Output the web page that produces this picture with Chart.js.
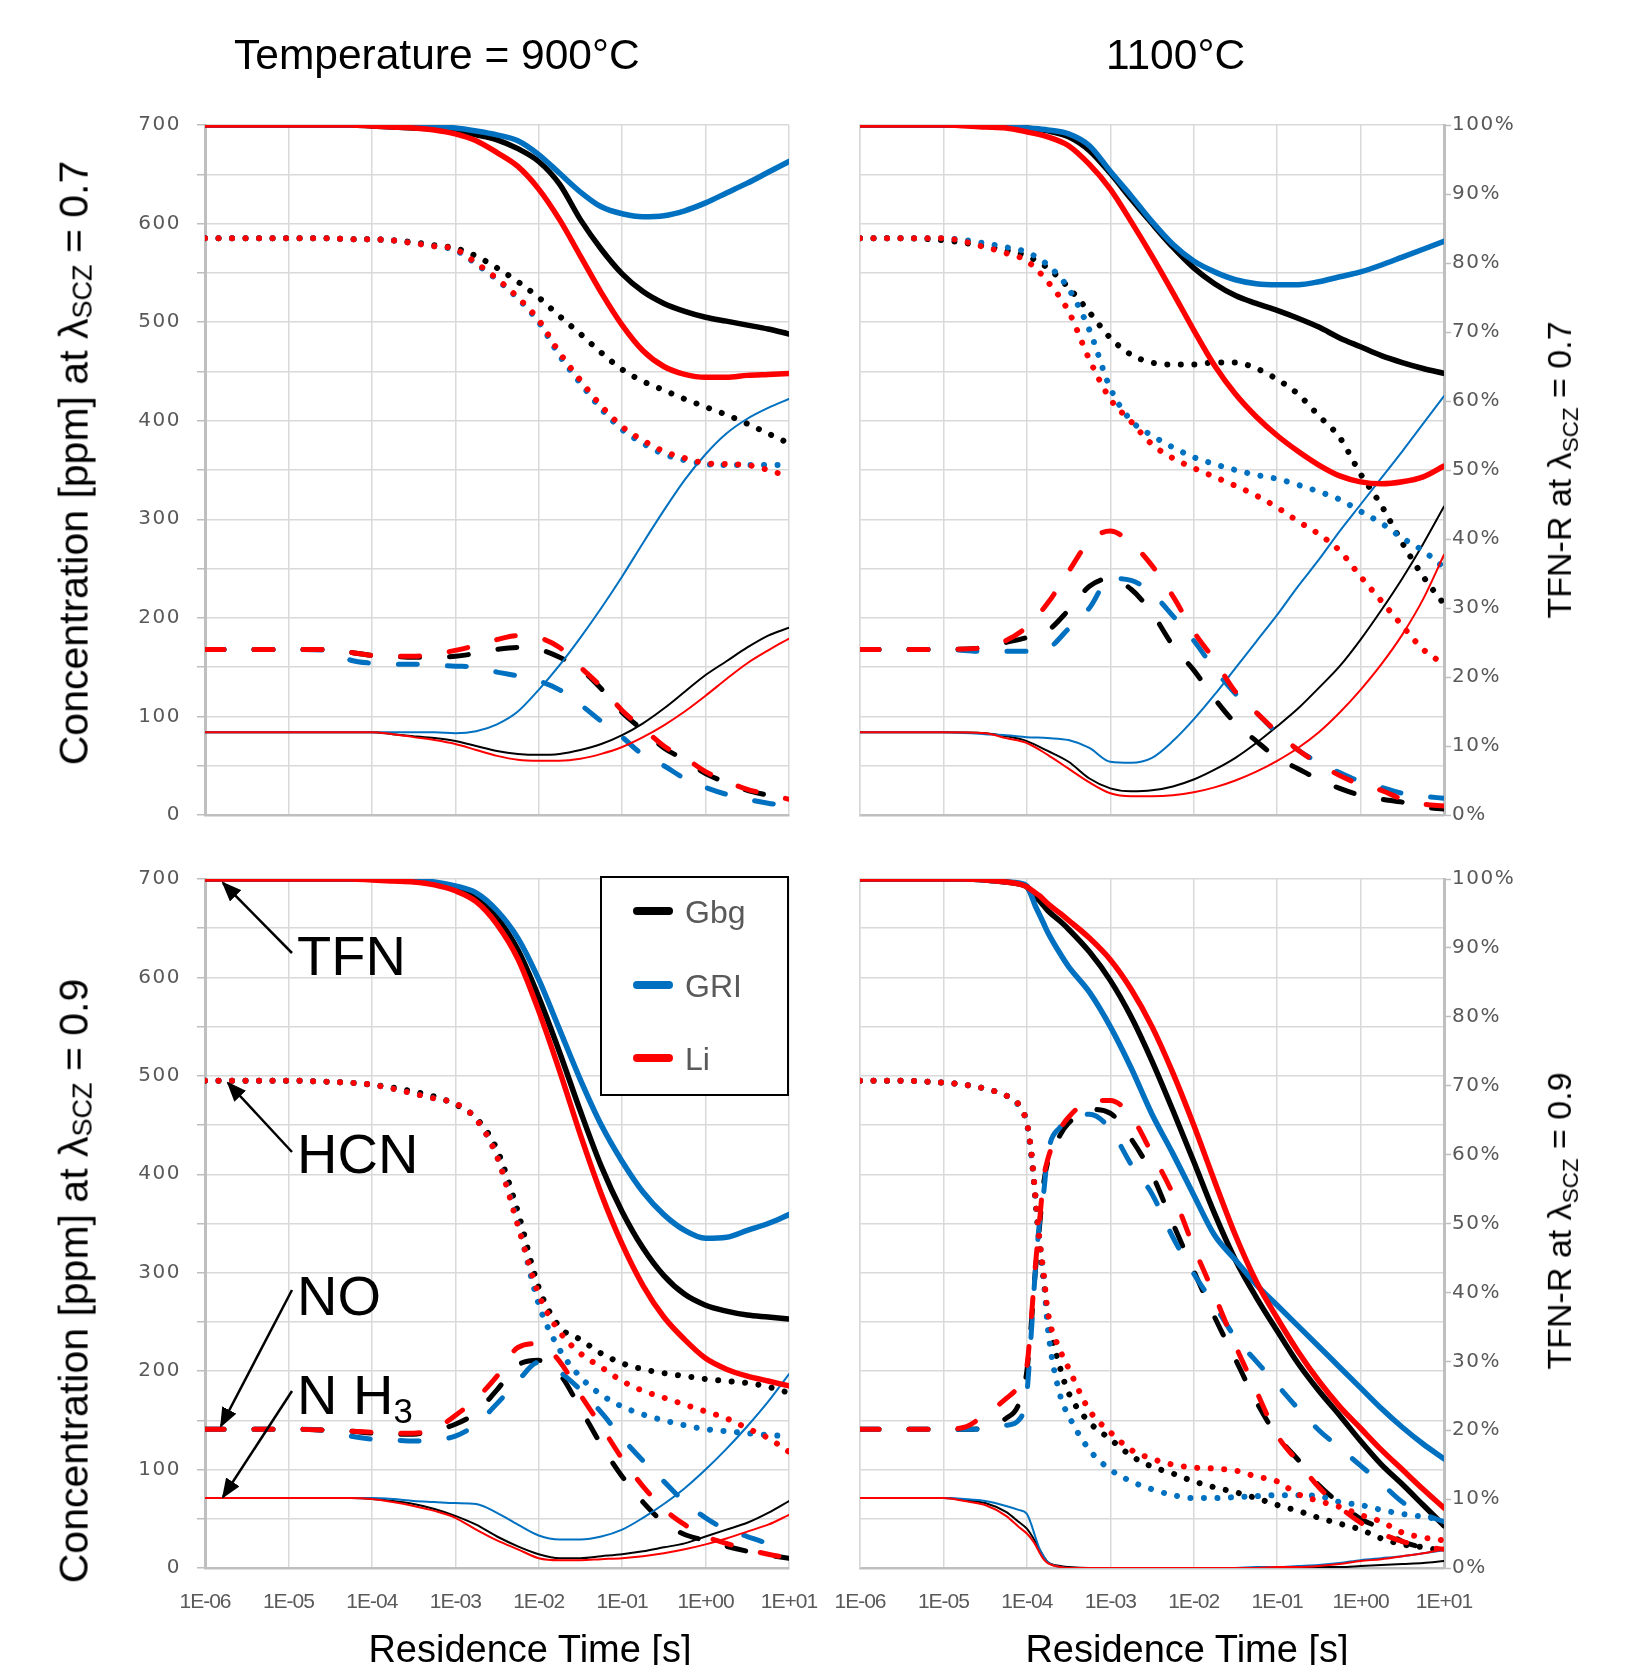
<!DOCTYPE html>
<html><head><meta charset="utf-8">
<script src="https://cdn.jsdelivr.net/npm/chart.js@4.4.1/dist/chart.umd.min.js"></script>
<style>
html,body{margin:0;padding:0;background:#fff;}
#wrap{position:relative;width:1639px;height:1665px;overflow:hidden;font-family:"Liberation Sans",Arial,sans-serif;}
canvas{position:absolute;left:0;top:0;}
.t{position:absolute;white-space:nowrap;color:#000;line-height:1;}
.rot{transform:translate(-50%,-50%) rotate(-90deg);transform-origin:50% 50%;}
.sub{font-size:0.66em;vertical-align:-0.14em;}
#legend{position:absolute;left:600px;top:876px;width:185px;height:216px;border:2px solid #000;background:#fff;}
.lg{position:absolute;left:31px;width:40px;height:8px;border-radius:4px;}
.lt{position:absolute;left:83px;font-size:32px;color:#595959;line-height:1;}
</style></head>
<body><div id="wrap">
<canvas id="cTL" width="1639" height="1665"></canvas>
<canvas id="cTR" width="1639" height="1665"></canvas>
<canvas id="cBL" width="1639" height="1665"></canvas>
<canvas id="cBR" width="1639" height="1665"></canvas>

<div class="t" style="left:234px;top:34px;font-size:42.5px;">Temperature = 900°C</div>
<div class="t" style="left:1106px;top:34px;font-size:42.5px;">1100°C</div>

<div class="t rot" style="left:75px;top:463px;font-size:41px;">Concentration [ppm] at λ<span class="sub">SCZ</span> = 0.7</div>
<div class="t rot" style="left:75px;top:1281px;font-size:41px;">Concentration [ppm] at λ<span class="sub">SCZ</span> = 0.9</div>
<div class="t rot" style="left:1562px;top:470px;font-size:34px;">TFN-R at λ<span class="sub" style="vertical-align:-0.3em">SCZ</span> = 0.7</div>
<div class="t rot" style="left:1562px;top:1221px;font-size:34px;">TFN-R at λ<span class="sub" style="vertical-align:-0.3em">SCZ</span> = 0.9</div>

<div class="t" style="left:530px;top:1630px;font-size:38px;transform:translateX(-50%);">Residence Time [s]</div>
<div class="t" style="left:1187px;top:1630px;font-size:38px;transform:translateX(-50%);">Residence Time [s]</div>

<div class="t" style="left:297px;top:928px;font-size:56px;">TFN</div>
<div class="t" style="left:297px;top:1126px;font-size:56px;">HCN</div>
<div class="t" style="left:297px;top:1268px;font-size:56px;">NO</div>
<div class="t" style="left:297px;top:1367px;font-size:56px;">N H<span style="font-size:0.62em;vertical-align:-0.25em">3</span></div>

<svg width="1639" height="1665" style="position:absolute;left:0;top:0;pointer-events:none">
<defs><marker id="ah" markerWidth="20" markerHeight="16" refX="18" refY="8" orient="auto" markerUnits="userSpaceOnUse"><path d="M0,0 L20,8 L0,16 Z" fill="#000"/></marker></defs>
<line x1="292" y1="953" x2="223" y2="883" stroke="#000" stroke-width="2.5" marker-end="url(#ah)"/>
<line x1="292" y1="1152" x2="228" y2="1083" stroke="#000" stroke-width="2.5" marker-end="url(#ah)"/>
<line x1="292" y1="1290" x2="221" y2="1426" stroke="#000" stroke-width="2.5" marker-end="url(#ah)"/>
<line x1="292" y1="1391" x2="223" y2="1497" stroke="#000" stroke-width="2.5" marker-end="url(#ah)"/>
</svg>

<div id="legend">
  <div class="lg" style="top:29px;background:#000000"></div><div class="lt" style="top:18px;">Gbg</div>
  <div class="lg" style="top:103px;background:#0070C0"></div><div class="lt" style="top:92px;">GRI</div>
  <div class="lg" style="top:176px;background:#FF0000"></div><div class="lt" style="top:165px;">Li</div>
</div>
</div>
<script>
// ---------- axes / ticks ----------
const xTickValues = [1e-6,1e-5,1e-4,1e-3,1e-2,1e-1,1,10];
const xTickLabels = ['1E-06','1E-05','1E-04','1E-03','1E-02','1E-01','1E+00','1E+01'];
const yTickValues = [0,50,100,150,200,250,300,350,400,450,500,550,600,650,700];
const yTickLabels = ['0','','100','','200','','300','','400','','500','','600','','700'];
const pctTickValues = [0,10,20,30,40,50,60,70,80,90,100];
const pctTickLabels = ['0%','10%','20%','30%','40%','50%','60%','70%','80%','90%','100%'];

// residence time grids (log10 of seconds)
const logGrid = [-6,-5.5,-5,-4.5,-4.25,-4,-3.75,-3.5,-3.25,-3,-2.75,-2.5,-2.25,-2,-1.75,-1.5,-1.25,-1,-0.75,-0.5,-0.25,0,0.25,0.5,0.75,1];
const logGridBR = [-6,-5.5,-5,-4.75,-4.5,-4.25,-4.1,-4,-3.95,-3.9,-3.85,-3.8,-3.75,-3.6,-3.5,-3.25,-3,-2.75,-2.5,-2.25,-2,-1.75,-1.5,-1.25,-1,-0.75,-0.5,-0.25,0,0.25,0.5,0.75,1];

// ---------- 900°C, lambda 0.7 ----------
const tl_TFN_Gbg = [700,700,700,700,700,699,698,697,696,694,690,685,676,663,640,604,574,549,531,519,511,505,501,497,493,488];
const tl_TFN_GRI = [700,700,700,700,700,700,699,699,698,697,694,690,684,670,651,632,617,610,607,608,613,621,631,641,652,663];
const tl_TFN_Li  = [700,700,700,700,700,699,698,697,695,691,684,672,658,635,604,567,530,497,471,455,447,444,444,446,447,448];
const tl_HCN_Gbg = [585,585,585,585,584,584,583,581,578,575,567,555,541,525,506,488,469,452,440,431,422,414,406,397,387,377];
const tl_HCN_GRI = [585,585,585,585,584,584,583,580,577,573,559,543,524,500,466,438,412,391,377,366,360,356,355,355,355,355];
const tl_HCN_Li  = [585,585,585,585,584,584,583,580,577,574,560,544,525,502,469,441,415,394,380,369,362,357,356,355,350,343];
const tl_NO_Gbg  = [168,168,168,168,165,162,161,160,160,161,164,168,170,168,160,148,128,104,86,68,56,42,33,25,20,15];
const tl_NO_GRI  = [168,168,168,167,157,154,153,153,152,151,150,145,141,136,127,112,95,79,61,50,37,28,21,16,12,9];
const tl_NO_Li   = [168,168,168,168,165,162,161,161,163,167,172,178,182,180,170,150,130,106,88,70,58,44,34,26,21,16];
const tl_NH3_Gbg = [84,84,84,84,84,84,82,80,78,75,70,65,62,61,62,66,72,81,93,108,125,142,156,170,182,190];
const tl_NH3_GRI = [84,84,84,84,84,84,84,84,84,83,85,92,105,127,152,180,210,242,276,309,340,366,387,402,413,422];
const tl_NH3_Li  = [84,84,84,84,84,84,82,79,76,72,66,60,56,55,55,57,62,69,79,91,105,121,138,154,167,179];

// ---------- 1100°C, lambda 0.7 ----------
const tr_TFN_Gbg = [700,700,700,700,699,697,694,688,674,651,625,600,576,555,539,527,519,512,504,495,484,475,466,459,453,448];
const tr_TFN_GRI = [700,700,700,700,699,697,695,691,679,653,628,602,579,562,551,543,539,538,538,541,546,551,558,566,574,582];
const tr_TFN_Li  = [700,700,700,698,697,693,688,679,660,635,602,567,530,492,456,427,404,385,369,355,344,338,336,338,343,354];
const tr_HCN_Gbg = [585,585,583,577,573,567,555,535,510,484,467,459,457,457,459,459,453,442,427,405,383,346,314,276,242,214];
const tr_HCN_GRI = [585,585,585,580,576,571,558,534,492,433,400,385,373,363,356,350,345,341,335,328,320,308,296,281,268,251];
const tr_HCN_Li  = [585,585,585,576,570,562,541,511,462,422,399,376,362,352,343,334,324,312,298,285,268,242,217,192,168,153];
const tr_NO_Gbg  = [168,168,168,170,175,180,187,208,232,240,229,205,172,147,118,93,75,58,47,36,27,20,16,13,8,6];
const tr_NO_GRI  = [168,168,168,166,166,166,169,189,210,240,238,225,202,177,148,123,104,83,66,53,43,34,28,22,19,17];
const tr_NO_Li   = [168,168,168,170,177,191,215,247,278,288,276,253,222,186,157,125,104,84,66,52,40,31,25,16,11,9];
const tr_NH3_Gbg = [84,84,84,83,80,75,65,54,37,27,24,25,29,36,46,58,73,90,108,129,151,178,208,240,275,313];
const tr_NH3_GRI = [84,84,84,82,81,79,78,76,68,54,53,58,75,97,122,149,176,203,232,259,288,315,342,369,397,425];
const tr_NH3_Li  = [84,84,84,83,78,73,61,47,33,22,19,19,20,23,28,35,44,55,68,84,104,127,153,183,219,264];

// ---------- 900°C, lambda 0.9 ----------
const bl_TFN_Gbg = [700,700,700,700,700,700,699,698,696,691,681,661,628,580,524,464,408,362,325,297,278,267,261,257,255,253];
const bl_TFN_GRI = [700,700,700,700,700,700,699,698,697,693,686,668,640,598,547,496,450,413,382,359,343,335,336,343,350,359];
const bl_TFN_Li  = [700,700,700,700,700,699,698,697,694,688,677,654,619,566,505,440,380,329,287,255,232,213,202,195,190,185];
const bl_HCN_Gbg = [495,495,495,494,493,491,488,484,479,471,457,425,362,285,245,232,218,208,202,198,195,192,190,188,184,178];
const bl_HCN_GRI = [495,495,495,494,493,491,487,482,477,472,456,418,350,268,222,194,176,164,156,150,145,141,139,137,135,134];
const bl_HCN_Li  = [495,495,495,494,493,491,487,482,477,472,456,418,348,278,240,218,204,190,180,173,166,159,152,142,132,118];
const bl_NO_Gbg  = [141,141,141,140,139,137,136,136,140,146,158,181,206,211,197,162,125,93,67,46,34,28,22,17,13,10];
const bl_NO_GRI  = [141,141,141,139,134,131,130,129,130,134,146,167,190,209,199,181,158,132,109,88,67,51,39,32,25,21];
const bl_NO_Li   = [141,141,141,140,139,138,137,137,141,155,172,195,224,228,210,176,144,111,83,60,44,32,25,19,14,10];
const bl_NH3_Gbg = [71,71,71,71,71,70,68,65,60,53,44,32,22,14,10,10,12,14,17,21,25,32,39,46,56,68];
const bl_NH3_GRI = [71,71,71,71,71,71,70,68,67,66,65,56,44,33,29,29,32,39,51,65,81,100,121,144,169,197];
const bl_NH3_Li  = [71,71,71,71,71,70,67,63,58,51,39,28,19,10,8,8,9,10,12,15,19,24,30,37,44,54];

// ---------- 1100°C, lambda 0.9 ----------
const br_TFN_Gbg = [700,700,700,700,699,697,695,692,686,682,678,673,668,657,649,626,597,560,515,465,413,360,313,275,241,208,180,155,129,105,85,64,43];
const br_TFN_GRI = [700,700,700,700,699,697,696,693,684,673,664,655,646,624,611,585,550,508,461,421,379,338,313,288,267,246,225,204,183,162,143,126,111];
const br_TFN_Li  = [700,700,700,700,699,697,695,692,689,686,683,679,675,665,658,640,618,588,550,503,450,393,338,291,254,220,190,164,142,120,100,80,61];
const br_HCN_Gbg = [495,495,493,491,487,480,471,452,425,377,330,294,257,203,178,148,131,114,103,96,88,82,77,71,64,58,51,45,39,30,24,21,17];
const br_HCN_GRI = [495,495,493,491,487,480,470,452,421,381,334,298,245,175,155,120,100,88,80,74,71,71,72,73,74,74,73,67,64,59,55,52,49];
const br_HCN_Li  = [495,495,493,491,487,480,471,452,425,380,335,300,261,221,203,160,138,120,111,105,102,101,99,93,88,75,68,62,54,47,36,31,28];
const br_NO_Gbg  = [141,141,141,141,142,152,166,200,245,300,345,390,412,440,452,466,462,436,400,350,302,255,212,169,134,110,84,66,50,40,27,21,18];
const br_NO_GRI  = [141,141,141,141,141,145,150,178,235,300,350,380,420,448,454,461,446,410,380,336,299,267,234,210,186,162,140,122,104,86,67,55,47];
const br_NO_Li   = [141,141,141,143,156,172,185,205,250,305,350,395,415,446,458,474,475,459,421,380,326,277,226,180,135,108,82,62,46,35,27,22,19];
const br_NH3_Gbg = [71,71,71,69,66,57,47,40,34,27,19,12,6,2,1,0,0,0,0,0,0,0,0,0,0,1,1,1,2,3,4,5,7];
const br_NH3_GRI = [71,71,71,70,68,63,59,55,45,32,20,12,6,1,0,0,0,0,0,0,0,0,0,1,1,2,3,5,8,10,12,15,18];
const br_NH3_Li  = [71,71,71,68,64,53,42,35,30,24,16,9,5,1,0,0,0,0,0,0,0,0,0,0,1,1,2,4,7,9,12,15,19];

// ---------- styling ----------
const SPECIES = ['TFN','HCN','NO','NH3'];
const MECHS = ['Gbg','GRI','Li'];
const COLORS = {Gbg:'#000000', GRI:'#0070C0', Li:'#FF0000'};
const DRAW_ORDER = {Li:1, GRI:2, Gbg:3};
const STYLE = {
  TFN: {w:5.5, dash:[], cap:'round'},
  HCN: {w:6, dash:[0.01,13.5], cap:'round'},
  NO:  {w:5, dash:[19,30], cap:'round'},
  NH3: {w:2, dash:[], cap:'round'}
};

const panels = [
  {id:'cTL', grid:logGrid, S:{TFN:{Gbg:tl_TFN_Gbg,GRI:tl_TFN_GRI,Li:tl_TFN_Li},HCN:{Gbg:tl_HCN_Gbg,GRI:tl_HCN_GRI,Li:tl_HCN_Li},NO:{Gbg:tl_NO_Gbg,GRI:tl_NO_GRI,Li:tl_NO_Li},NH3:{Gbg:tl_NH3_Gbg,GRI:tl_NH3_GRI,Li:tl_NH3_Li}},
   left:true, right:false, bottom:false, pad:{left:115, top:125, right:850, bottom:850}},
  {id:'cTR', grid:logGrid, S:{TFN:{Gbg:tr_TFN_Gbg,GRI:tr_TFN_GRI,Li:tr_TFN_Li},HCN:{Gbg:tr_HCN_Gbg,GRI:tr_HCN_GRI,Li:tr_HCN_Li},NO:{Gbg:tr_NO_Gbg,GRI:tr_NO_GRI,Li:tr_NO_Li},NH3:{Gbg:tr_NH3_Gbg,GRI:tr_NH3_GRI,Li:tr_NH3_Li}},
   left:false, right:true, bottom:false, pad:{left:860, top:125, right:75, bottom:850}},
  {id:'cBL', grid:logGrid, S:{TFN:{Gbg:bl_TFN_Gbg,GRI:bl_TFN_GRI,Li:bl_TFN_Li},HCN:{Gbg:bl_HCN_Gbg,GRI:bl_HCN_GRI,Li:bl_HCN_Li},NO:{Gbg:bl_NO_Gbg,GRI:bl_NO_GRI,Li:bl_NO_Li},NH3:{Gbg:bl_NH3_Gbg,GRI:bl_NH3_GRI,Li:bl_NH3_Li}},
   left:true, right:false, bottom:true, pad:{left:115, top:879, right:850, bottom:37}},
  {id:'cBR', grid:logGridBR, S:{TFN:{Gbg:br_TFN_Gbg,GRI:br_TFN_GRI,Li:br_TFN_Li},HCN:{Gbg:br_HCN_Gbg,GRI:br_HCN_GRI,Li:br_HCN_Li},NO:{Gbg:br_NO_Gbg,GRI:br_NO_GRI,Li:br_NO_Li},NH3:{Gbg:br_NH3_Gbg,GRI:br_NH3_GRI,Li:br_NH3_Li}},
   left:false, right:true, bottom:true, pad:{left:860, top:879, right:75, bottom:37}}
];

Chart.defaults.animation = false;
Chart.defaults.font.family = 'DejaVu Sans';
Chart.defaults.color = '#595959';

// x labels (drawn before datasets) are slightly condensed, y labels (drawn after) slightly spaced
const labelSpacing = {
  id:'labelSpacing',
  beforeDraw(chart){ chart.ctx.letterSpacing = '-1px'; },
  afterDatasetsDraw(chart){ chart.ctx.letterSpacing = '1.5px'; },
  afterDraw(chart){ chart.ctx.letterSpacing = '0px'; }
};

function toPts(grid, vals){ return grid.map((e,i)=>({x:Math.pow(10,e), y:vals[i]})); }

panels.forEach(p => {
  const datasets = [];
  SPECIES.forEach(sp => {
    MECHS.forEach(m => {
      const st = STYLE[sp];
      datasets.push({
        label: sp + ' ' + m,
        data: toPts(p.grid, p.S[sp][m]),
        borderColor: COLORS[m],
        backgroundColor: COLORS[m],
        borderWidth: st.w,
        borderDash: st.dash,
        borderCapStyle: st.cap,
        borderJoinStyle: 'round',
        pointRadius: 0,
        pointHoverRadius: 0,
        fill: false,
        cubicInterpolationMode: 'monotone',
        order: DRAW_ORDER[m],
        yAxisID: 'y'
      });
    });
  });
  const scales = {
    x: {
      type:'logarithmic', min:1e-6, max:10,
      afterBuildTicks: s => { s.ticks = xTickValues.map(v=>({value:v})); },
      afterFit: s => { s.height = p.bottom ? 60 : 0; },
      ticks: {display:p.bottom, z:0, callback:(v,i)=>xTickLabels[i], maxRotation:0, minRotation:0, autoSkip:false, padding:22,
              color:'#595959', font:{family:'Liberation Sans', size:21}},
      grid: {color:'#d9d9d9', lineWidth:1.5, drawTicks:false},
      border: {display:true, color:'#bfbfbf', width:2.5}
    },
    y: {
      type:'linear', position:'left', min:0, max:700,
      afterBuildTicks: s => { s.ticks = yTickValues.map(v=>({value:v})); },
      afterFit: s => { s.width = p.left ? 90 : 0; },
      ticks: {display:p.left, z:1, callback:(v,i)=>yTickLabels[i], padding:16, color:'#595959', font:{family:'DejaVu Sans', size:20}},
      grid: {color:'#d9d9d9', lineWidth:1.5, drawTicks:p.left, tickLength:8, tickColor:'#bfbfbf', tickWidth:1.5},
      border: {display:true, color:p.left ? '#bfbfbf' : '#d9d9d9', width:p.left ? 3 : 1.5}
    }
  };
  if (p.right) {
    scales.y1 = {
      type:'linear', position:'right', min:0, max:100,
      afterBuildTicks: s => { s.ticks = pctTickValues.map(v=>({value:v})); },
      afterFit: s => { s.width = 120; },
      ticks: {z:1, callback:(v,i)=>pctTickLabels[i], padding:1, color:'#595959', font:{family:'DejaVu Sans', size:20}},
      grid: {drawOnChartArea:false, drawTicks:true, tickLength:7, tickColor:'#bfbfbf', tickWidth:1.5, color:'#bfbfbf'},
      border: {display:true, color:'#bfbfbf', width:3}
    };
  }
  new Chart(document.getElementById(p.id), {
    type:'line',
    data:{datasets},
    options:{
      responsive:false, animation:false, devicePixelRatio:1,
      layout:{padding:p.pad},
      plugins:{legend:{display:false}, tooltip:{enabled:false}},
      events:[],
      scales
    },
    plugins:[labelSpacing]
  });
});
</script>
</body></html>
